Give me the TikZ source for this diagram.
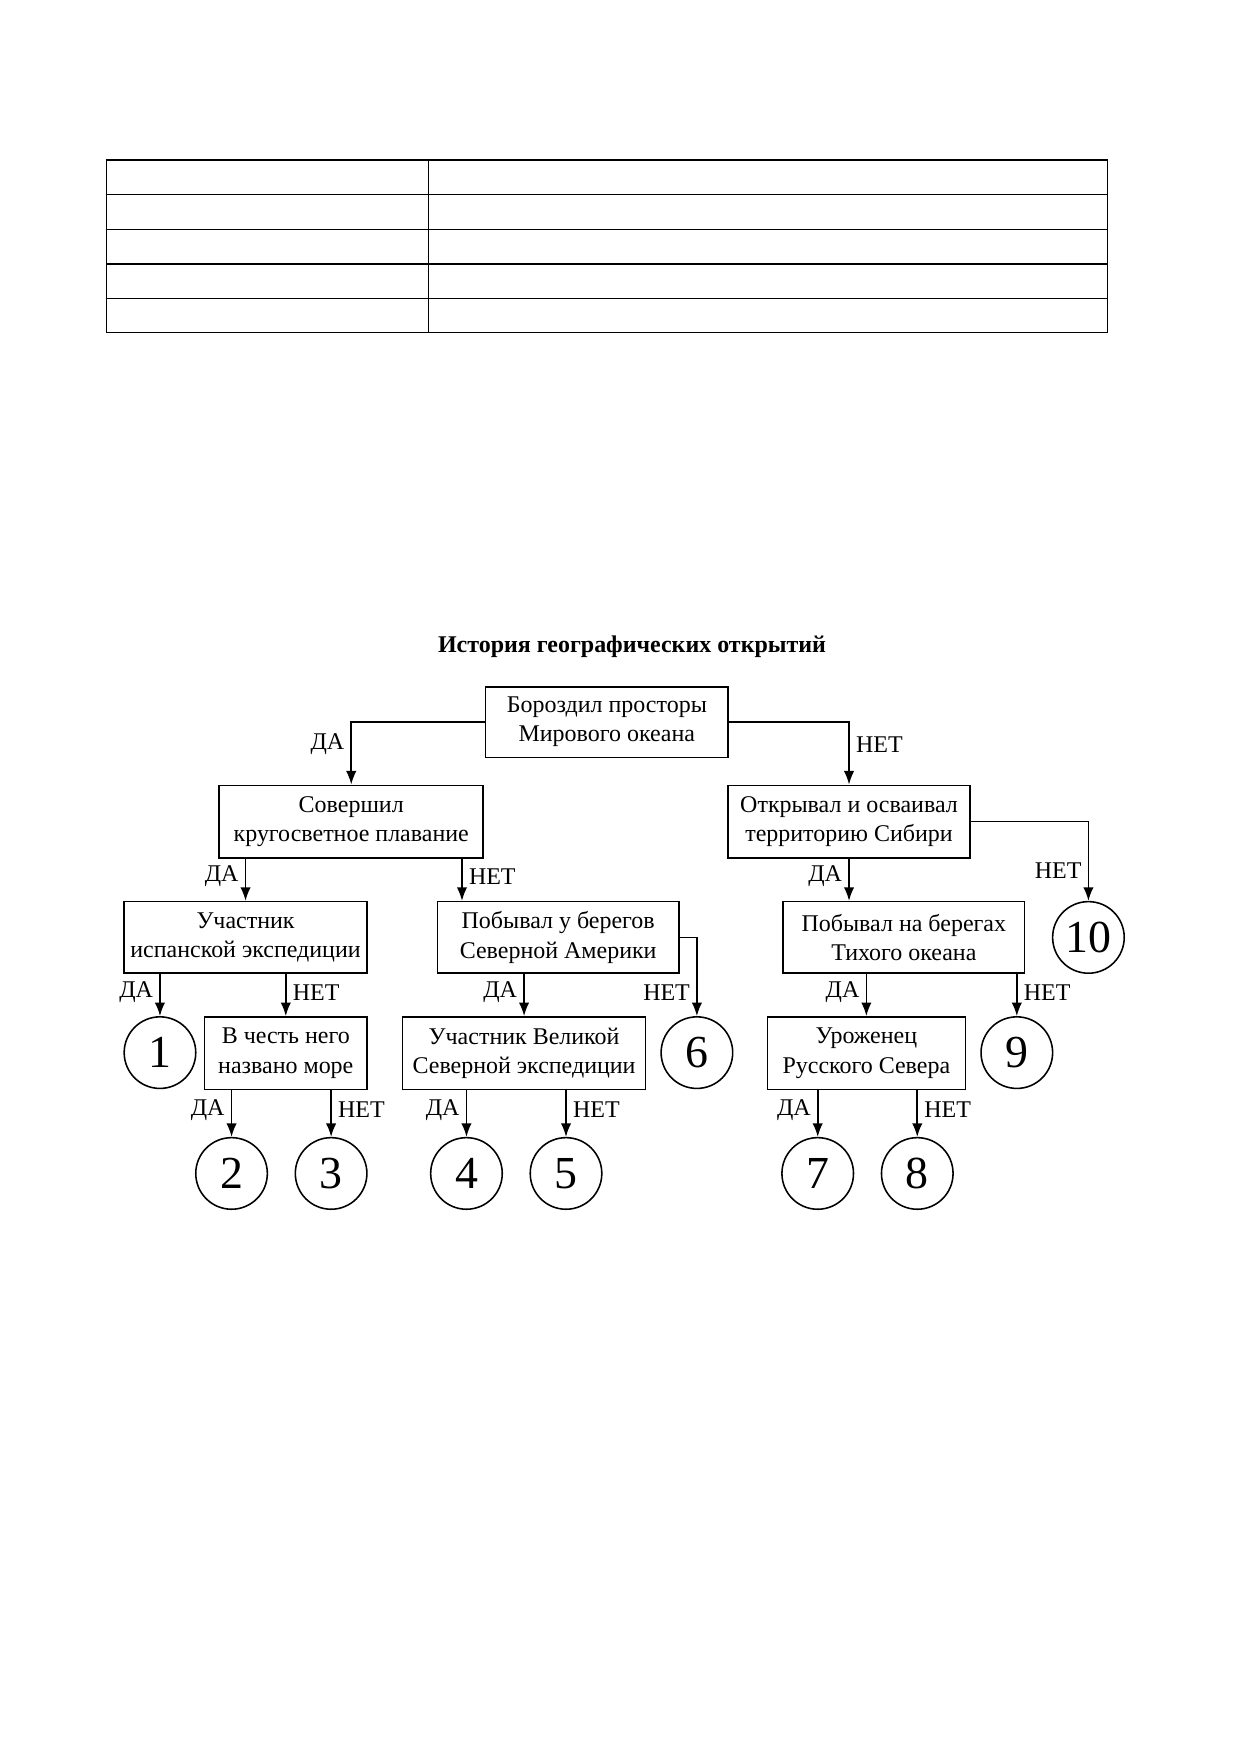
\documentclass[tikz,border=0pt]{standalone}
\usepackage{fontspec}
\setmainfont{Liberation Serif}
\usetikzlibrary{arrows.meta}
\begin{document}
\begin{tikzpicture}[x=0.5367pt,y=-0.5367pt,
  txt/.style={font=\fontsize{11.5}{14}\selectfont},
  box/.style 2 args={draw, line width=0.75pt, align=center, inner sep=0pt, txt,
    minimum width={#1*0.5367pt}, minimum height={#2*0.5367pt}},
  num/.style={draw, circle, line width=0.75pt, minimum size={64*0.5367pt}, inner sep=0pt,
    font=\fontsize{22}{22}\selectfont},
  arr/.style={line width=0.75pt, -{Latex[length=6.5pt,width=5pt]}},
  yes/.style={left, inner sep=3pt, txt},
  no/.style={right, inner sep=3pt, txt},
  tbl/.style={line width=0.6pt}
]
\useasboundingbox (0,0) rectangle (1109,1568);

% table
\draw[tbl] (95,143) rectangle (990,297);
\foreach \yy in {174,205,236,267} \draw[tbl] (95,\yy) -- (990,\yy);
\draw[tbl] (383,143) -- (383,297);

% title
\node[font=\fontsize{11.5}{14}\selectfont\bfseries] (title) at (565,578) {История географических открытий};

% boxes
\node[box={217}{63}] (A) at (542.5,645.5) {Бороздил просторы\\Мирового океана};
\node[box={236}{65}] (B) at (314,734.5) {Совершил\\кругосветное плавание};
\node[box={216}{65}] (C) at (759,734.5) {Открывал и осваивал\\территорию Сибири};
\node[box={217}{64}] (D) at (219.5,838) {Участник\\испанской экспедиции};
\node[box={216}{64}] (E) at (499,838) {Побывал у берегов\\Северной Америки};
\node[box={216}{64}] (F) at (808,838) {Побывал на берегах\\Тихого океана};
\node[box={145}{65}] (G) at (255.5,941.5) {В честь него\\названо море};
\node[box={217}{65}] (H) at (468.5,941.5) {Участник Великой\\Северной экспедиции};
\node[box={177}{65}] (I) at (774.5,941.5) {Уроженец\\Русского Севера};

% circles
\node[num] (c1) at (143,941) {1};
\node[num] (c2) at (207,1049) {2};
\node[num] (c3) at (296,1049) {3};
\node[num] (c4) at (417,1049) {4};
\node[num] (c5) at (506,1049) {5};
\node[num] (c6) at (623,941) {6};
\node[num] (c7) at (731,1049) {7};
\node[num] (c8) at (820,1049) {8};
\node[num] (c9) at (909,941) {9};
\node[num] (c10) at (973,838) {10};

\coordinate (xBE) at (413,0);

% connectors
\draw[arr] (A.west) -| node[yes,pos=0.68]{ДА} (B.north);
\draw[arr] (A.east) -| node[no,pos=0.68]{НЕТ} (C.north);
\draw[arr] (D.north |- B.south) -- node[yes,pos=0.42]{ДА} (D.north);
\draw[arr] (B.south -| xBE) -- node[no,pos=0.42]{НЕТ} (E.north -| xBE);
\draw[arr] (C.south) -- node[yes,pos=0.42]{ДА} (C.south |- F.north);
\draw[arr] (C.east) -| node[yes,pos=0.81]{НЕТ} (c10.north);
\draw[arr] (c1.north |- D.south) -- node[yes,pos=0.44]{ДА} (c1.north);
\draw[arr] (G.north |- D.south) -- node[no,pos=0.44]{НЕТ} (G.north);
\draw[arr] (H.north |- E.south) -- node[yes,pos=0.44]{ДА} (H.north);
\draw[arr] (E.east) -| node[yes,pos=0.85]{НЕТ} (c6.north);
\draw[arr] (I.north |- F.south) -- node[yes,pos=0.44]{ДА} (I.north);
\draw[arr] (c9.north |- F.south) -- node[no,pos=0.44]{НЕТ} (c9.north);
\draw[arr] (c2.north |- G.south) -- node[yes,pos=0.42]{ДА} (c2.north);
\draw[arr] (c3.north |- G.south) -- node[no,pos=0.42]{НЕТ} (c3.north);
\draw[arr] (c4.north |- H.south) -- node[yes,pos=0.42]{ДА} (c4.north);
\draw[arr] (c5.north |- H.south) -- node[no,pos=0.42]{НЕТ} (c5.north);
\draw[arr] (c7.north |- I.south) -- node[yes,pos=0.42]{ДА} (c7.north);
\draw[arr] (c8.north |- I.south) -- node[no,pos=0.42]{НЕТ} (c8.north);
\end{tikzpicture}
\end{document}
